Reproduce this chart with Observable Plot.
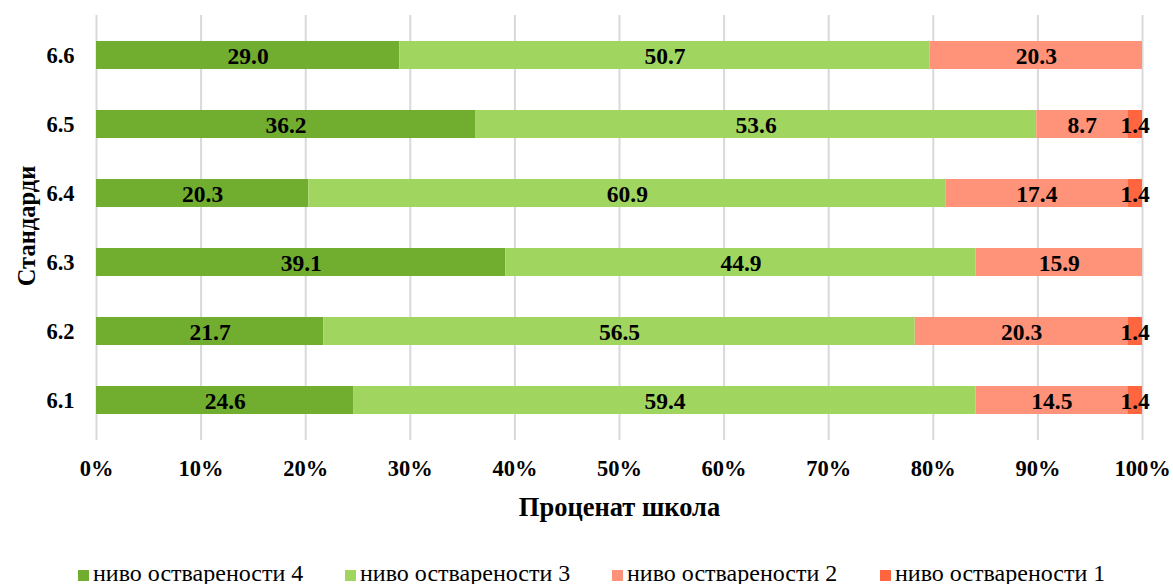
<!DOCTYPE html>
<html>
<head>
<meta charset="utf-8">
<script src="https://cdn.jsdelivr.net/npm/d3@7"></script>
<script src="https://cdn.jsdelivr.net/npm/@observablehq/plot@0.6"></script>
<style>
  html, body { margin: 0; padding: 0; background: #fff; overflow: hidden; }
  body { width: 1173px; height: 584px; font-family: "Liberation Serif", "Times New Roman", serif; }
  svg, svg text { font-family: "Liberation Serif", "Times New Roman", serif !important; }
  #legend { position: absolute; top: 561px; left: 0; width: 1173px; height: 23px; font-size: 24px; line-height: 24px; color: #000; }
  .item { position: absolute; top: 0; height: 24px; white-space: nowrap; }
  .sw { position: absolute; left: 0; top: 9px; width: 11px; height: 11px; }
  .lab { position: absolute; left: 15px; top: 0; }
</style>
</head>
<body>
<div id="chart"></div>
<div id="legend"></div>
<script>
const standards = ["6.6", "6.5", "6.4", "6.3", "6.2", "6.1"];
const levels = ["ниво остварености 4", "ниво остварености 3", "ниво остварености 2", "ниво остварености 1"];
const colors = ["#71AD2F", "#A0D660", "#FF9379", "#FF6640"];
const level4 = [29.0, 36.2, 20.3, 39.1, 21.7, 24.6];
const level3 = [50.7, 53.6, 60.9, 44.9, 56.5, 59.4];
const level2 = [20.3, 8.7, 17.4, 15.9, 20.3, 14.5];
const level1 = [0, 1.4, 1.4, 0, 1.4, 1.4];
const xTicks = [0, 0.1, 0.2, 0.3, 0.4, 0.5, 0.6, 0.7, 0.8, 0.9, 1.0];

const series = [level4, level3, level2, level1];
const data = [];
standards.forEach((s, i) => {
  series.forEach((arr, j) => {
    data.push({standard: s, level: levels[j], value: arr[i]});
  });
});

const font = "Liberation Serif";
const stackOpts = {x: "value", y: "standard", z: "level", offset: "normalize"};

const plot = Plot.plot({
  width: 1173,
  height: 548,
  marginTop: 15,
  marginBottom: 108,
  marginLeft: 96,
  marginRight: 31,
  style: {fontFamily: font, fontSize: "22px", fontWeight: "bold", color: "#000", background: "#fff", overflow: "visible"},
  x: {domain: [0, 1], ticks: xTicks},
  y: {domain: standards, paddingInner: 0.6, paddingOuter: 0.34},
  color: {domain: levels, range: colors},
  marks: [
    Plot.gridX(xTicks, {stroke: "#d9d9d9", strokeOpacity: 1, strokeWidth: 2}),
    Plot.barX(data, Plot.stackX({...stackOpts, fill: "level", order: levels})),
    Plot.textX(data.filter(d => d.value > 0), Plot.stackX({
      ...stackOpts,
      order: levels,
      text: d => d.value.toFixed(1),
      fill: "#000",
      fontFamily: font,
      fontSize: 23.5,
      fontWeight: "bold",
      dy: 1
    })),
    Plot.axisX(xTicks, {
      tickSize: 0, tickPadding: 20, tickFormat: d => Math.round(d * 100) + "%",
      fontFamily: font, fontSize: 22.5, fontWeight: "bold",
      label: null
    }),
    Plot.axisY({
      tickSize: 0, tickPadding: 22, fontFamily: font, fontSize: 22.5, fontWeight: "bold",
      label: null
    }),
    Plot.text(["Проценат школа"], {
      frameAnchor: "bottom", dy: 75, text: d => d, textAnchor: "middle",
      fontFamily: font, fontSize: 26.5, fontWeight: "bold", fill: "#000"
    }),
    Plot.text(["Стандарди"], {
      frameAnchor: "left", dx: -69, dy: -2, rotate: -90, text: d => d,
      textAnchor: "middle", lineAnchor: "middle",
      fontFamily: font, fontSize: 24.5, fontWeight: "bold", fill: "#000"
    })
  ]
});
document.getElementById("chart").appendChild(plot);

const legend = document.getElementById("legend");
const lx = [78, 345, 612, 880];
levels.forEach((l, i) => {
  const it = document.createElement("div");
  it.className = "item";
  it.style.left = lx[i] + "px";
  it.innerHTML = `<span class="sw" style="background:${colors[i]}"></span><span class="lab">${l}</span>`;
  legend.appendChild(it);
});
</script>
</body>
</html>
